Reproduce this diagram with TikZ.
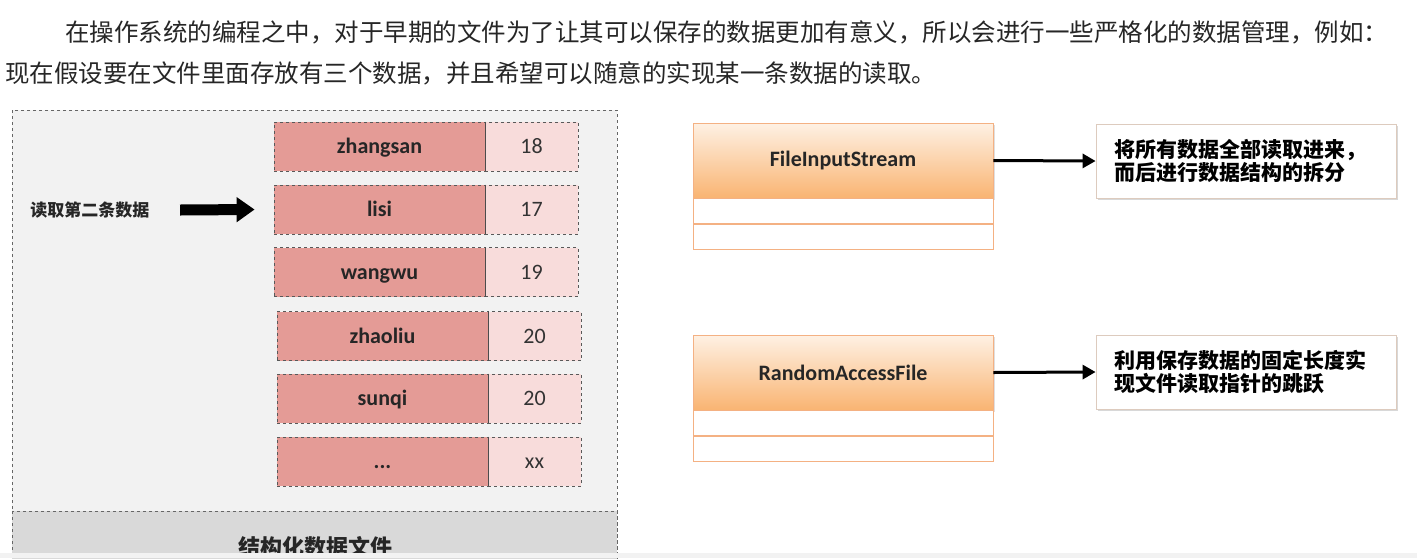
\documentclass[tikz,border=0pt]{standalone}
\usepackage{fontspec}
\setmainfont{Carlito}
\newfontfamily\cjk{Noto Sans CJK SC}
\usetikzlibrary{arrows.meta,shadows}
\definecolor{namefill}{HTML}{E49B96}
\definecolor{agefill}{HTML}{F8DCDB}
\definecolor{panelfill}{HTML}{F2F2F2}
\definecolor{bandfill}{HTML}{D9D9D9}
\definecolor{orangetop}{HTML}{FEF1E4}
\definecolor{orangebot}{HTML}{F9B472}
\definecolor{orangeline}{HTML}{F4B183}
\tikzset{
  namebox/.style={draw=black!65, dashed, line width=0.8pt, fill=namefill, minimum width=211pt, minimum height=49pt, inner sep=0pt, text height=17pt, text depth=3pt, text=black!85, font=\fontsize{22}{22}\selectfont\bfseries},
  agebox/.style={draw=black!65, dashed, line width=0.8pt, fill=agefill, minimum width=93pt, minimum height=49pt, inner sep=0pt, text height=17pt, text depth=3pt, text=black!80, font=\fontsize{22}{22}\selectfont},
  classhead/.style={draw=orangeline, line width=0.8pt, top color=orangetop, bottom color=orangebot, minimum width=300pt, minimum height=75pt, inner sep=0pt, text=black!85, font=\fontsize{22}{22}\selectfont\bfseries, drop shadow={opacity=0.25}},
  classrow/.style={draw=orangeline, line width=0.8pt, fill=white, minimum width=300pt, minimum height=25pt, inner sep=0pt, anchor=north},
  notebox/.style={draw=orangeline!70!black!40, line width=0.8pt, fill=white, minimum width=300pt, minimum height=74pt, inner sep=0pt, align=left, text width=264pt, font=\cjk\bfseries\fontsize{21}{23}\selectfont, drop shadow={opacity=0.3}},
  conn/.style={line width=3pt, -{Triangle[length=13pt,width=14pt]}},
}
\begin{document}
\begin{tikzpicture}[x=1pt,y=-1pt]
\clip (0,0) rectangle (1417,558);
\fill[white] (0,0) rectangle (1417,558);
% intro text
\node[anchor=west, inner sep=0pt, text=black!85, font=\cjk\fontsize{24.5}{24.5}\selectfont] (p1) at (65,32) {在操作系统的编程之中，对于早期的文件为了让其可以保存的数据更加有意义，所以会进行一些严格化的数据管理，例如：};
\node[anchor=west, inner sep=0pt, text=black!85, font=\cjk\fontsize{24.5}{24.5}\selectfont] (p2) at (5,73) {现在假设要在文件里面存放有三个数据，并且希望可以随意的实现某一条数据的读取。};
% structured file
\draw[dashed, black!60, line width=0.8pt, fill=panelfill] (12,110) rectangle (617,600);
\draw[dashed, black!60, line width=0.8pt, fill=bandfill] (12,511) rectangle (617,600);
\node[font=\cjk\bfseries\fontsize{22}{22}\selectfont, text=black!85] (ftitle) at (315,547) {结构化数据文件};
\node[namebox] (n1) at (379.5,146.5) {zhangsan};
\node[agebox] (a1) at (531.5,146.5) {18};
\node[namebox] (n2) at (379.5,209.5) {lisi};
\node[agebox] (a2) at (531.5,209.5) {17};
\node[namebox] (n3) at (379.5,272) {wangwu};
\node[agebox] (a3) at (531.5,272) {19};
\node[namebox] (n4) at (382.5,336) {zhaoliu};
\node[agebox] (a4) at (534.5,336) {20};
\node[namebox] (n5) at (382.5,398.5) {sunqi};
\node[agebox] (a5) at (534.5,398.5) {20};
\node[namebox] (n6) at (382.5,461.5) {...};
\node[agebox] (a6) at (534.5,461.5) {xx};
\foreach \i in {1,...,6}
  \draw[black!70, line width=1pt] (n\i.north east) -- (n\i.south east);
\node[font=\cjk\bfseries\fontsize{17}{17}\selectfont, text=black!85] (rd) at (90,210) {读取第二条数据};
\coordinate (rdtip) at ([xshift=-19pt]n2.west);
\draw[line width=11pt, -{Triangle[length=18pt,width=24pt]}] ([xshift=27pt]rd.east) -- (rdtip);
% FileInputStream
\node[classhead] (fis) at (843,160.5) {FileInputStream};
\node[classrow] (fis1) at (fis.south) {};
\node[classrow] (fis2) at (fis1.south) {};
\node[notebox] (fisd) at (1246,161) {将所有数据全部读取进来，\\而后进行数据结构的拆分};
\draw[conn] (fis.east) -- (fisd.west);
% RandomAccessFile
\node[classhead] (raf) at (843,372.5) {RandomAccessFile};
\node[classrow] (raf1) at (raf.south) {};
\node[classrow] (raf2) at (raf1.south) {};
\node[notebox] (rafd) at (1246,372) {利用保存数据的固定长度实\\现文件读取指针的跳跃};
\draw[conn] (raf.east) -- (rafd.west);
\fill[black!5] (0,553) rectangle (1417,558);
\end{tikzpicture}
\end{document}
